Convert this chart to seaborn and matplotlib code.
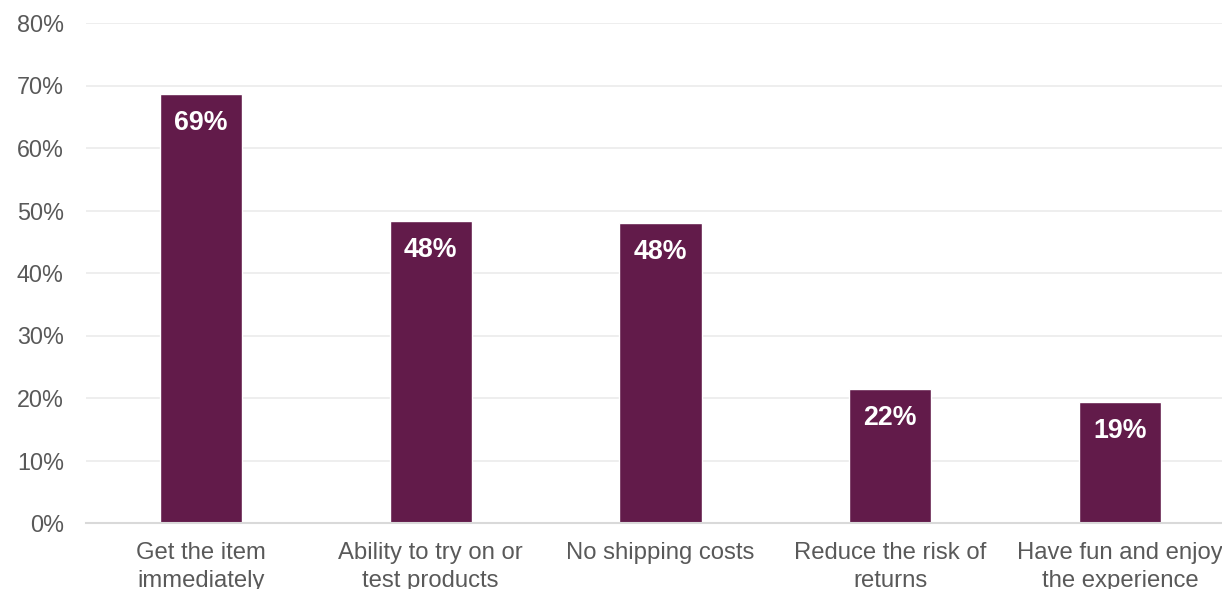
import matplotlib
matplotlib.use("Agg")
import matplotlib.pyplot as plt
import seaborn as sns
import pandas as pd
from matplotlib.ticker import FuncFormatter

# Reasons for shopping in store (share of respondents, %)
categories = [
    "Get the item\nimmediately",
    "Ability to try on or\ntest products",
    "No shipping costs",
    "Reduce the risk of\nreturns",
    "Have fun and enjoy\nthe experience",
]
values = [68.6, 48.3, 48.0, 21.5, 19.4]
y_ticks = [0, 10, 20, 30, 40, 50, 60, 70, 80]

BAR_COLOR = "#621B4A"
TEXT_GREY = "#595959"

sns.set_theme(style="white")
plt.rcParams["font.family"] = ["Liberation Sans", "DejaVu Sans"]

df = pd.DataFrame({"reason": categories, "share": values})

fig = plt.figure(figsize=(12.22, 5.89), dpi=100)
# axes runs past the right edge of the canvas so the last label is clipped
ax = fig.add_axes([86 / 1222, 66 / 589, 1149 / 1222, 500 / 589])

sns.barplot(data=df, x="reason", y="share", color=BAR_COLOR, width=0.357,
            saturation=1, ax=ax, zorder=3)

ax.set_xlim(-0.5, 4.5)
ax.set_ylim(0, 80)
ax.set_yticks(y_ticks)
ax.yaxis.set_major_formatter(FuncFormatter(lambda v, _: f"{v:.0f}%"))
ax.set_xlabel("")
ax.set_ylabel("")

ax.grid(axis="y", color="#EBEBEB", linewidth=1.2, zorder=0)
ax.grid(axis="x", visible=False)
for side in ("top", "right", "left"):
    ax.spines[side].set_visible(False)
ax.spines["bottom"].set_color("#D9D9D9")
ax.spines["bottom"].set_linewidth(1.5)
ax.spines["bottom"].set_zorder(4)

ax.tick_params(axis="y", length=0, pad=16, labelsize=16.8, labelcolor=TEXT_GREY)
ax.tick_params(axis="x", length=0, pad=14, labelsize=17.2, labelcolor=TEXT_GREY)
for lbl in ax.get_xticklabels():
    lbl.set_linespacing(1.3)

for i, v in enumerate(values):
    ax.annotate(f"{v:.0f}%", xy=(i, v), xytext=(0, -21), textcoords="offset points",
                ha="center", va="center", color="white", fontsize=19.3,
                fontweight="bold", zorder=5)

fig.savefig("out.png", dpi=100)
